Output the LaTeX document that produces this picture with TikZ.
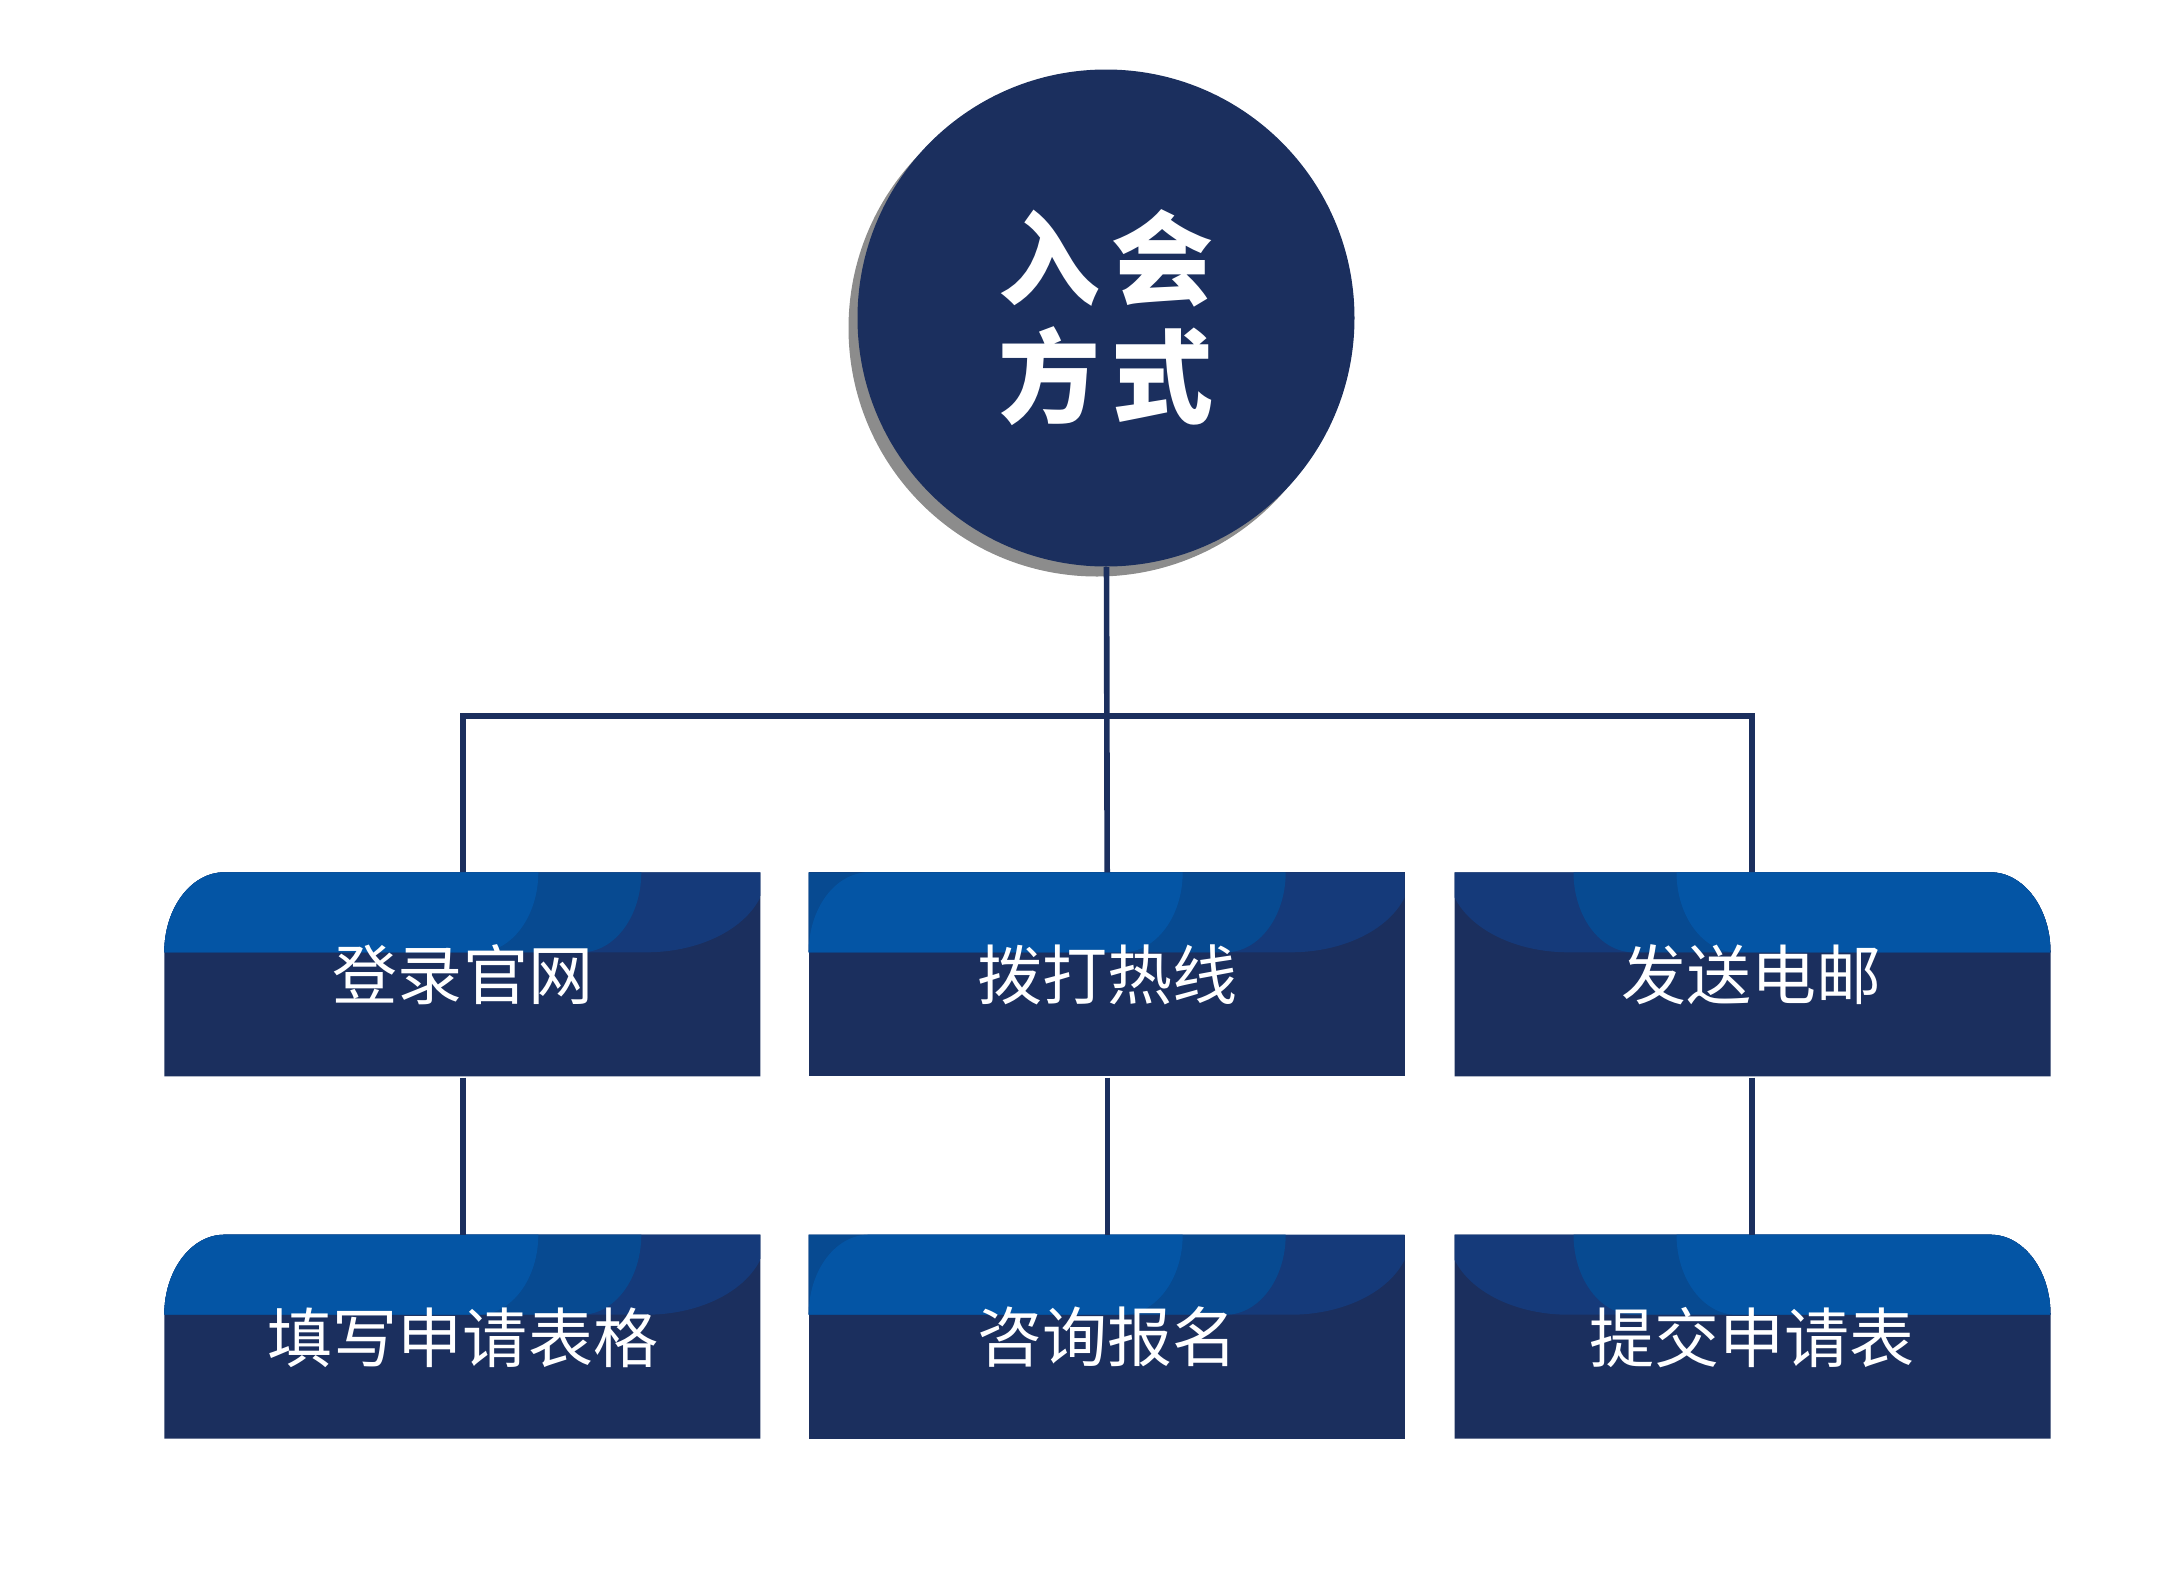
\documentclass[tikz,border=0pt]{standalone}
\usepackage{fontspec}
\setmainfont{Noto Sans CJK SC}
\usetikzlibrary{positioning,shadows,backgrounds}

\definecolor{navy}{HTML}{1B2F5E}
\definecolor{bandbright}{HTML}{0455A5}
\definecolor{bandmid}{HTML}{074A91}
\definecolor{banddark}{HTML}{153A7A}
\definecolor{shadowgray}{HTML}{8C8C8C}

% card body and its three-colour band, in the card's own frame
\newcommand\cardback[2]{%
  \begin{scope}[#1]
    \fill[navy] [#2];
    \path[clip] [#2];
    \fill[banddark] (-0.1,0) -- (6.02,0) arc[start angle=0, end angle=-90, x radius=1.2, y radius=0.8] -- (-0.1,-0.8) -- cycle;
    \fill[bandmid] (-0.1,0) -- (4.77,0) arc[start angle=0, end angle=-90, x radius=0.6, y radius=0.8] -- (-0.1,-0.8) -- cycle;
    \fill[bandbright] (0,-0.8) arc[start angle=180, end angle=90, x radius=0.6, y radius=0.8] -- (3.74,0) arc[start angle=0, end angle=-90, x radius=0.6, y radius=0.8] -- cycle;
  \end{scope}}

\begin{document}
\begin{tikzpicture}[
    hubcircle/.style={circle, fill=navy, minimum size=4.97cm, inner sep=0pt, text=white, align=center,
      font=\fontsize{29}{33.6}\selectfont\bfseries,
      drop shadow={shadow xshift=-0.09cm, shadow yshift=-0.1cm, fill=shadowgray, opacity=1}},
    card/.style={rectangle, minimum width=5.96cm, minimum height=2.04cm, inner sep=0pt, text=white,
      font=\fontsize{18.5}{22}\selectfont},
    link/.style={draw=navy, line width=1.6pt},
    roundcard/.style={insert path={(0,-2.04) -- (0,-0.8) arc[start angle=180, end angle=90, x radius=0.6, y radius=0.8] -- (5.96,0) -- (5.96,-2.04) -- cycle}},
    squarecard/.style={insert path={(0,0) rectangle (5.96,-2.04)}}
  ]
  \useasboundingbox (0,0) rectangle (21.84,-15.96);

  \node (hub) [hubcircle] at (11.06,-3.18) {\raisebox{-0.07cm}{入\kern3pt 会}\\\raisebox{-0.07cm}{方\kern3pt 式}};

  \node (login) [card] at (4.63,-9.75) {登录官网};
  \node (hotline) [card, right=0.47cm of login] {拨打热线};
  \node (email) [card, right=0.47cm of hotline] {发送电邮};
  \node (form) [card, below=1.57cm of login] {填写申请表格};
  \node (consult) [card, below=1.57cm of hotline] {咨询报名};
  \node (submit) [card, below=1.57cm of email] {提交申请表};

  \begin{scope}[on background layer]
    \foreach \card in {login, form} {\cardback{shift={(\card.north west)}}{roundcard}}
    \foreach \card in {hotline, consult} {\cardback{shift={(\card.north west)}}{squarecard}}
    \foreach \card in {email, submit} {\cardback{shift={(\card.north east)}, xscale=-1}{roundcard}}
  \end{scope}

  % tree lines
  \coordinate (bus) at (0,-7.16);
  \draw[link] (hub) -- (hotline);
  \draw[link] (login) |- (email.north |- bus) -- (email);
  \foreach \a/\b in {login/form, hotline/consult, email/submit}
    \draw[link] (\a) -- (\b);
\end{tikzpicture}
\end{document}
